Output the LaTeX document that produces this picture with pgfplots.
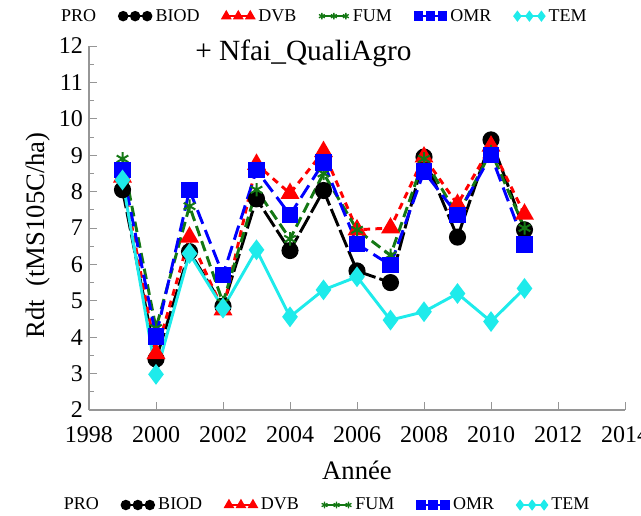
\documentclass[border=0pt]{standalone}
\usepackage{fontspec}
\setmainfont{Liberation Serif}
\usepackage{pgfplots}
\pgfplotsset{compat=1.18}
\definecolor{fumgreen}{RGB}{20,120,20}
\definecolor{temcyan}{RGB}{30,235,235}
\definecolor{axgray}{RGB}{150,150,150}
\pgfplotsset{
  three marks/.style={legend image code/.code={
    \draw[##1] plot coordinates {(0pt,0pt) (9pt,0pt) (18pt,0pt)};}},
  sBIOD/.style={black, line width=2.2pt, dash pattern=on 14pt off 3pt, mark=*, mark options={solid}},
  sDVB/.style={red, line width=2.2pt, dash pattern=on 5pt off 4pt, mark=triangle*, mark options={solid}},
  sFUM/.style={fumgreen, line width=2.2pt, dash pattern=on 8pt off 4pt, mark=asterisk, mark options={solid, line width=1.5pt}},
  sOMR/.style={blue, line width=2.2pt, dash pattern=on 11pt off 5pt, mark=square*, mark options={solid}},
  sTEM/.style={temcyan, line width=2.2pt, solid, mark=diamond*, mark options={solid}},
  leg/.style={legend columns=-1, legend cell align=left,
    legend style={draw=none, fill=none, font=\fontsize{13.5}{15}\selectfont, inner sep=1pt,
      /tikz/every odd column/.append style={column sep=1pt},
      /tikz/every even column/.append style={column sep=15pt}}},
  legimgs/.code={
    \addlegendimage{empty legend}\addlegendentry{PRO}
    \addlegendimage{three marks, sBIOD, solid, line width=1.2pt, mark size=3.3pt}\addlegendentry{BIOD}
    \addlegendimage{three marks, sDVB, solid, line width=1.2pt, mark size=3.5pt}\addlegendentry{DVB}
    \addlegendimage{three marks, sFUM, solid, line width=1.2pt, mark size=2.5pt, mark options={line width=1pt}}\addlegendentry{FUM}
    \addlegendimage{three marks, sOMR, solid, line width=1.2pt, mark size=3pt}\addlegendentry{OMR}
    \addlegendimage{three marks, sTEM, solid, line width=1.2pt, mark size=3.3pt}\addlegendentry{TEM}
  },
}
\begin{document}
\begin{tikzpicture}
\begin{axis}[
  name=ax,
  scale only axis, width=402pt, height=273pt,
  xmin=1998, xmax=2014, ymin=2, ymax=12,
  axis x line*=bottom, axis y line*=left,
  axis line style={axgray, line width=0.8pt, -},
  xtick={1998,2000,...,2014}, ytick={2,3,...,12},
  minor x tick num=1, minor y tick num=1,
  tick style={axgray, line width=0.6pt},
  major tick length=6pt, minor tick length=4pt,
  tick align=inside,
  /pgf/number format/1000 sep={},
  /pgf/number format/assume math mode=true,
  ticklabel style={font=\fontsize{18}{20}\selectfont},
  xticklabel style={yshift=-9pt},
  yticklabel style={xshift=-1pt},
  xlabel={Année}, ylabel={Rdt\ \ (tMS105C/ha)},
  label style={font=\fontsize{20}{22}\selectfont},
  xlabel style={at={(axis description cs:0.5,-0.165)}, anchor=center},
  ylabel style={at={(axis description cs:-0.095,0.48)}, anchor=center},
  clip=false,
  leg, legend style={at={(0.442,-0.261)}, anchor=center},
]
\pgfplotsset{legimgs}
\addplot[sBIOD, mark size=5.3pt, forget plot] coordinates {
(1999,8.05) (2000,3.4) (2001,6.35) (2002,4.85) (2003,7.8) (2004,6.38) (2005,8.03)
(2006,5.82) (2007,5.5) (2008,8.95) (2009,6.75) (2010,9.42) (2011,6.95)};
\addplot[sDVB, mark size=6pt, forget plot] coordinates {
(1999,8.4) (2000,3.55) (2001,6.75) (2002,4.75) (2003,8.75) (2004,7.95) (2005,9.1)
(2006,6.95) (2007,7.0) (2008,8.95) (2009,7.65) (2010,9.25) (2011,7.38)};
\addplot[sFUM, mark size=5pt, forget plot] coordinates {
(1999,8.9) (2000,4.25) (2001,7.6) (2002,4.95) (2003,8.05) (2004,6.7) (2005,8.5)
(2006,6.95) (2007,6.25) (2008,8.9) (2009,7.35) (2010,9.1) (2011,7.0)};
\addplot[sOMR, mark size=5pt, forget plot] coordinates {
(1999,8.59) (2000,4.02) (2001,8.04) (2002,5.71) (2003,8.59) (2004,7.36) (2005,8.8)
(2006,6.56) (2007,5.98) (2008,8.55) (2009,7.36) (2010,9.0) (2011,6.55)};
\addplot[sTEM, mark size=6pt, forget plot] coordinates {
(1999,8.32) (2000,2.98) (2001,6.3) (2002,4.8) (2003,6.4) (2004,4.56) (2005,5.3)
(2006,5.66) (2007,4.47) (2008,4.7) (2009,5.2) (2010,4.43) (2011,5.34)};
\node[font=\fontsize{22}{24}\selectfont, anchor=center] at (axis description cs:0.40,0.98) {+ Nfai\_QualiAgro};
\coordinate (bl) at (rel axis cs:0,0);
\coordinate (tr) at (rel axis cs:1,1);
\end{axis}
\begin{axis}[
  scale only axis, width=402pt, height=273pt,
  xmin=1998, xmax=2014, ymin=2, ymax=12, hide axis,
  leg, legend style={at={(0.437,1.082)}, anchor=center},
]
\pgfplotsset{legimgs}
\end{axis}
\pgfresetboundingbox
\path ([xshift=-66.75pt,yshift=-79.5pt]bl) rectangle ([xshift=12pt,yshift=34.5pt]tr);
\end{tikzpicture}
\end{document}
